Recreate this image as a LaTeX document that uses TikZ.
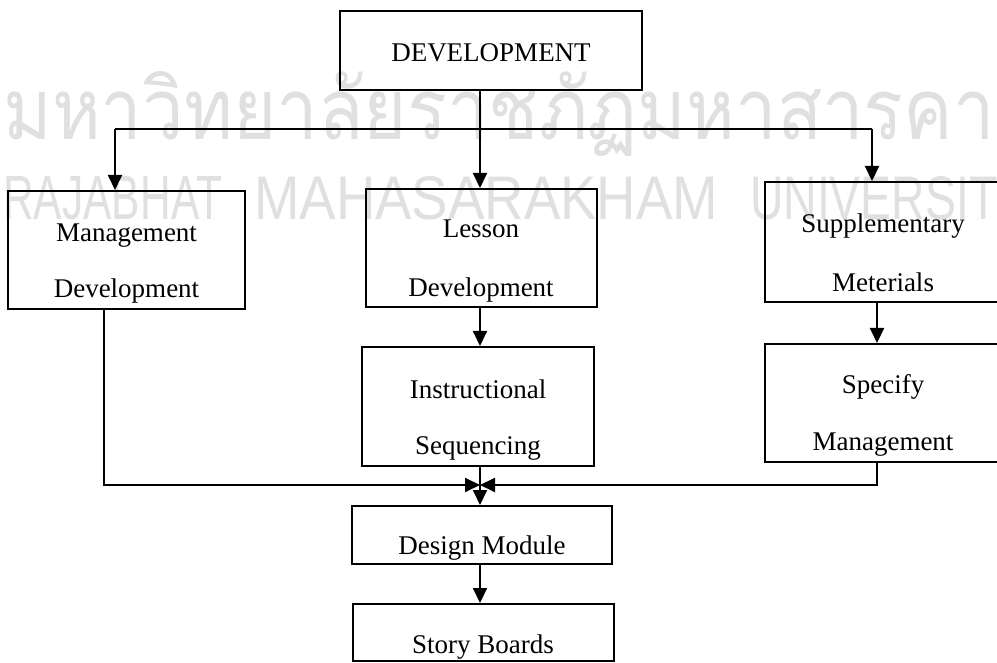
\documentclass[tikz,border=0pt]{standalone}
\usepackage{fontspec}
\setmainfont{Liberation Serif}
\newfontfamily\thaiwm[Script=Thai]{Loma}
\newfontfamily\latinwm{Liberation Sans}
\usetikzlibrary{arrows.meta}

\begin{document}
\begin{tikzpicture}[x=1pt,y=-1pt,
  box/.style={draw, line width=2pt, rectangle, inner sep=0pt},
  lbl/.style={anchor=base, inner sep=0pt, font=\fontsize{27}{30}\selectfont},
  link/.style={line width=2pt},
  arr/.style={link, -{Triangle[length=15pt,width=14pt]}},
  wm/.style={anchor=base west, inner sep=0pt, text=black!12}
]
\useasboundingbox (0,0) rectangle (997,663);
\clip (0,0) rectangle (997,663);
\fill[white] (0,0) rectangle (997,663);

% university watermark behind the chart
\node[wm] (wmthai) at (3,140) {\resizebox{1040pt}{68pt}{\thaiwm มหาวิทยาลัยราชภัฏมหาสารคาม}};
\node[wm] (wmw1) at (3,220)   {\resizebox{219pt}{43pt}{\latinwm RAJABHAT}};
\node[wm] (wmw2) at (254,220) {\resizebox{464pt}{43pt}{\latinwm MAHASARAKHAM}};
\node[wm] (wmw3) at (750,220) {\resizebox{278pt}{43pt}{\latinwm UNIVERSITY}};

% boxes
\node[box, minimum width=302pt, minimum height=79pt]  (dev)  at (491,50.5) {};
\node[box, minimum width=237pt, minimum height=118pt] (mgmt) at (126.5,250) {};
\node[box, minimum width=231pt, minimum height=118pt] (les)  at (481.5,248) {};
\node[box, minimum width=236pt, minimum height=120pt] (sup)  at (883,242) {};
\node[box, minimum width=232pt, minimum height=119pt] (ins)  at (478,406.5) {};
\node[box, minimum width=236pt, minimum height=118pt] (spec) at (883,403) {};
\node[box, minimum width=260pt, minimum height=58pt]  (des)  at (482,535) {};
\node[box, minimum width=261pt, minimum height=57pt]  (sto)  at (483.5,632.5) {};

% box texts
\node[lbl] (tdev)  at (491,62)    {DEVELOPMENT};
\node[lbl] (tmg1)  at (126.5,242) {Management};
\node[lbl] (tmg2)  at (126.5,298) {Development};
\node[lbl] (tle1)  at (481,238)   {Lesson};
\node[lbl] (tle2)  at (481,297)   {Development};
\node[lbl] (tsu1)  at (883,233)   {Supplementary};
\node[lbl] (tsu2)  at (883,292)   {Meterials};
\node[lbl] (tin1)  at (478,398)   {Instructional};
\node[lbl] (tin2)  at (478,454)   {Sequencing};
\node[lbl] (tsp1)  at (883,393)   {Specify};
\node[lbl] (tsp2)  at (883,450)   {Management};
\node[lbl] (tdes)  at (482,554)   {Design Module};
\node[lbl] (tsto)  at (483,653)   {Story Boards};

% routing columns and junctions
\coordinate (spine) at (480,0);
\coordinate (lcol)  at (104,0);
\coordinate (rcol)  at (877,0);
\coordinate (busL)  at (115,129);
\coordinate (busR)  at (872,129);
\coordinate (join)  at (480,485);

% connectors
\draw[link] (busL) -- (busR);
\draw[arr] (dev.south -| spine) -- (les.north -| spine);
\draw[arr] (busL) -- (busL |- mgmt.north);
\draw[arr] (busR) -- (busR |- sup.north);
\draw[arr] (les.south -| spine) -- (ins.north -| spine);
\draw[arr] (sup.south -| rcol) -- (spec.north -| rcol);
\draw[arr] (mgmt.south -| lcol) |- (join);
\draw[arr] (spec.south -| rcol) |- (join);
\draw[arr] (ins.south -| spine) -- (des.north -| spine);
\draw[arr] (des.south -| spine) -- (sto.north -| spine);
\end{tikzpicture}
\end{document}
